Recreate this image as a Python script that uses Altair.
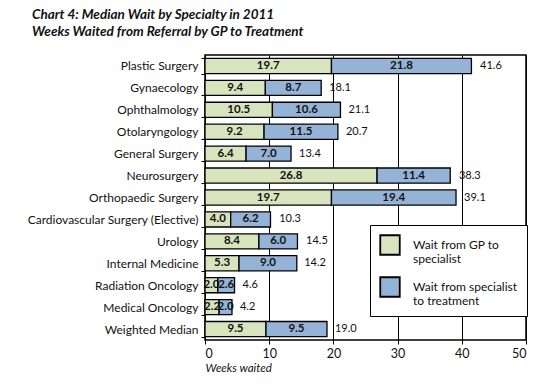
import altair as alt
import pandas as pd

categories = ["Plastic Surgery", "Gynaecology", "Ophthalmology", "Otolaryngology",
              "General Surgery", "Neurosurgery", "Orthopaedic Surgery",
              "Cardiovascular Surgery (Elective)", "Urology", "Internal Medicine",
              "Radiation Oncology", "Medical Oncology", "Weighted Median"]
gp_wait = [19.7, 9.4, 10.5, 9.2, 6.4, 26.8, 19.7, 4.0, 8.4, 5.3, 2.0, 2.2, 9.5]
spec_wait = [21.8, 8.7, 10.6, 11.5, 7.0, 11.4, 19.4, 6.2, 6.0, 9.0, 2.6, 2.0, 9.5]
totals = [41.6, 18.1, 21.1, 20.7, 13.4, 38.3, 39.1, 10.3, 14.5, 14.2, 4.6, 4.2, 19.0]
series = ["Wait from GP to specialist", "Wait from specialist to treatment"]
colors = ["#d7e4bd", "#95b3d7"]
x_ticks = [0, 10, 20, 30, 40, 50]

rows = []
for c, g, s in zip(categories, gp_wait, spec_wait):
    rows.append({"cat": c, "series": series[0], "start": 0.0, "end": g, "val": g})
    rows.append({"cat": c, "series": series[1], "start": g, "end": g + s, "val": s})
seg = pd.DataFrame(rows)
seg["mid"] = (seg["start"] + seg["end"]) / 2
seg["lab"] = seg["val"].map(lambda v: f"{v:.1f}")
tot = pd.DataFrame({"cat": categories, "total": totals,
                    "lab": [f"{t:.1f}" for t in totals]})

FONT = "Lato"
y_enc = alt.Y("cat:N", sort=categories,
              scale=alt.Scale(paddingInner=0.31, paddingOuter=0.155),
              axis=alt.Axis(title=None, tickBand="extent", tickSize=4, tickColor="black",
                            domain=False, labelPadding=3, labelFontSize=12,
                            labelColor="#111", labelFont=FONT, labelLimit=300))
x_scale = alt.Scale(domain=[0, 50], nice=False)

bars = alt.Chart(seg).mark_bar(stroke="black", strokeWidth=1.3).encode(
    x=alt.X("start:Q", scale=x_scale,
            axis=alt.Axis(values=x_ticks, grid=True, gridColor="black", gridOpacity=1,
                          gridWidth=1, tickColor="black", tickSize=4, domain=False,
                          labelFontSize=12.5, labelFont=FONT, labelColor="#111",
                          labelPadding=3, title="Weeks waited", titleFont=FONT,
                          titleFontStyle="italic", titleFontWeight="normal",
                          titleFontSize=11.5, titleAnchor="start", titleAlign="left",
                          titlePadding=3, titleColor="#111")),
    x2="end:Q",
    y=y_enc,
    color=alt.Color("series:N", sort=series,
                    scale=alt.Scale(domain=series, range=colors),
                    legend=alt.Legend(title=None, orient="none", legendX=165, legendY=170,
                                      fillColor="white", strokeColor="black",
                                      padding=9, symbolType="square", symbolSize=380,
                                      symbolStrokeColor="black", symbolStrokeWidth=1.8,
                                      labelFont=FONT, labelFontSize=12, labelColor="#111",
                                      labelOffset=12, rowPadding=8, labelLimit=200,
                                      labelExpr="datum.label == 'Wait from GP to specialist' ? ['Wait from GP to', 'specialist'] : ['Wait from specialist', 'to treatment']")),
)

seg_text = alt.Chart(seg).mark_text(font=FONT, fontWeight="bold", fontSize=11.5,
                                    color="#111").encode(
    x=alt.X("mid:Q", scale=x_scale), y=alt.Y("cat:N", sort=categories), text="lab:N")

tot_text = alt.Chart(tot).mark_text(font=FONT, fontSize=11, color="#111",
                                    align="left", dx=8).encode(
    x=alt.X("total:Q", scale=x_scale), y=alt.Y("cat:N", sort=categories), text="lab:N")

chart = alt.layer(bars, seg_text, tot_text).properties(
    width=321, height=285,
    autosize=alt.AutoSizeParams(type="none"),
    padding={"left": 197, "top": 47, "right": 20, "bottom": 36},
    title=alt.TitleParams(
        ["Chart 4: Median Wait by Specialty in 2011",
         "Weeks Waited from Referral by GP to Treatment"],
        anchor="start", frame="group", dx=-173, offset=11, font=FONT,
        fontSize=13.5, fontStyle="italic", fontWeight="bold", lineHeight=17,
        color="#111"),
).configure_view(stroke="black", strokeWidth=1.5)

chart.save("out.html", embed_options={"renderer": "svg", "actions": False})
